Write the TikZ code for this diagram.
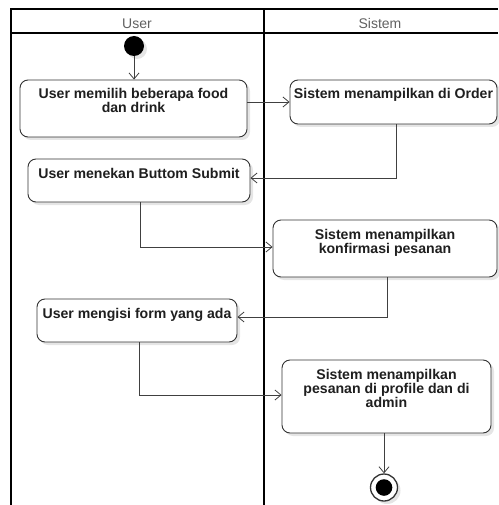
\documentclass[tikz,border=0pt]{standalone}
\usepackage{fontspec}
\setmainfont{Liberation Sans}
\usetikzlibrary{arrows.meta,shadows}

% activity text: centred, hanging from the top of its box
\newcommand\acttext[3]{\parbox[c][#2][t]{#1}{\centering\rule{0pt}{19pt}#3}}

\tikzset{
  lane/.style={line width=2pt, black},
  lanetitle/.style={text=black!62, font=\fontsize{14}{14}\selectfont, anchor=base, inner sep=0pt},
  act/.style={draw=black!80, line width=0.9pt, rounded corners=8pt, fill=white, inner sep=0pt,
    font=\bfseries\fontsize{14.1}{14}\selectfont, text=black!88,
    drop shadow={shadow xshift=3pt, shadow yshift=-3pt, fill=black, opacity=0.1}},
  flow/.style={draw=black!75, line width=0.8pt, -{Straight Barb[length=6pt,width=10pt,line width=0.8pt]}},
  startdot/.style={circle, fill=black, minimum size=20pt, inner sep=0pt,
    drop shadow={shadow xshift=3pt, shadow yshift=-3pt, fill=black, opacity=0.1}},
  enddot/.style={circle, draw=black!80, line width=1.3pt, fill=white, minimum size=27pt, inner sep=0pt,
    path picture={\fill[black] (path picture bounding box.center) circle (8.3pt);},
    drop shadow={shadow xshift=3pt, shadow yshift=-3pt, fill=black, opacity=0.1}},
}

\begin{document}
\begin{tikzpicture}[x=1pt, y=-1pt]
  \useasboundingbox (0,0) rectangle (498,505);

  % swimlane frame
  \draw[lane] (498,9) -- (11,9) -- (11,505);
  \draw[lane] (11,33) -- (498,33);
  \draw[lane] (264,9) -- (264,505);
  \node[lanetitle] (tuser) at (137,28.3) {User};
  \node[lanetitle] (tsys) at (380,28.3) {Sistem};

  % start and end
  \node[startdot] (start) at (134,46) {};
  \node[enddot] (end) at (384,487.5) {};

  % activities
  \node[act] (b1) at (133.5,108.5) {\acttext{227pt}{57pt}{User memilih beberapa food\\dan drink}};
  \node[act] (b2) at (393.5,102) {\acttext{207pt}{44pt}{Sistem menampilkan di Order}};
  \node[act] (b3) at (139,180.5) {\acttext{222pt}{43pt}{User menekan Buttom Submit}};
  \node[act] (b4) at (385,248.5) {\acttext{224pt}{57pt}{Sistem menampilkan\\konfirmasi pesanan}};
  \node[act] (b5) at (137,320.5) {\acttext{200pt}{43pt}{User mengisi form yang ada}};
  \node[act] (b6) at (386.5,396.5) {\acttext{209pt}{73pt}{Sistem menampilkan\\pesanan di profile dan di\\admin}};

  % control flow
  \draw[flow] (start) -- (b1.north -| start);
  \draw[flow] (b1.east |- b2.west) -- (b2.west);
  \draw[flow] ([xshift=2.5pt]b2.south) |- ([yshift=2.5pt]b3.east);
  \draw[flow] ([xshift=1pt]b3.south) |- ([yshift=1.5pt]b4.west);
  \draw[flow] ([xshift=2pt]b4.south) |- ([yshift=3.5pt]b5.east);
  \draw[flow] ([xshift=2pt]b5.south) |- ([yshift=1.5pt]b6.west);
  \draw[flow] (b6.south -| end) -- (end);
\end{tikzpicture}
\end{document}
